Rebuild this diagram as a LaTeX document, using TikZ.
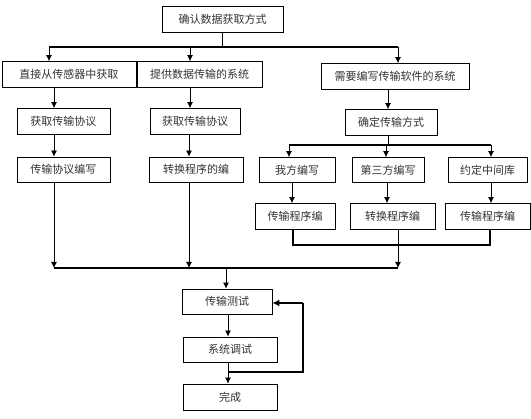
\documentclass[tikz,border=0pt]{standalone}
\usepackage{fontspec}
\newfontfamily\cjk{Noto Sans CJK SC}
\usetikzlibrary{arrows.meta}
\usetikzlibrary{positioning}
\tikzstyle{block} = [draw, rectangle, draw=black, line width=0.8pt, fill=white,
 text=black!80, font=\cjk\fontsize{11}{13}\selectfont,
 inner sep=0pt, minimum height=26pt]
\tikzstyle{arrow} = [line width=0.8pt, ->, >={Latex[length=6pt,width=6pt]}]
\tikzstyle{line} = [line width=0.8pt, -]
\tikzstyle{bus} = [line width=2pt, -]

\begin{document}
\begin{tikzpicture}[x=1pt, y=-1pt]
	\useasboundingbox (0,0) rectangle (531,419);
	
	\node [block, minimum width=121pt] (src) at (222.5,19) {确认数据获取方式};
	
	\node [block, minimum width=134pt] (direct) at (69,74.5) {直接从传感器中获取};
	\node [block, minimum width=125pt] (given) at (199.5,74.5) {提供数据传输的系统};
	\node [block, minimum width=148pt] (write) at (395,76.5) {需要编写传输软件的系统};
	
	\node [block, minimum width=93pt] (protoa) at (63.5,121.5) {获取传输协议};
	\node [block, minimum width=90pt] (protob) at (195,121.5) {获取传输协议};
	\node [block, minimum width=92pt] (mode) at (391,122.5) {确定传输方式};
	
	\node [block, minimum width=93pt, minimum height=25pt] (codea) at (63.5,169.5) {传输协议编写};
	\node [block, minimum width=94pt, minimum height=25pt] (codeb) at (196,169.5) {转换程序的编};
	\node [block, minimum width=76pt, minimum height=25pt] (own) at (297,170) {我方编写};
	\node [block, minimum width=72pt, minimum height=25pt] (third) at (388,170) {第三方编写};
	\node [block, minimum width=79pt, minimum height=25pt] (lib) at (487.5,170) {约定中间库};
	
	\node [block, minimum width=80pt] (proga) at (295,216.5) {传输程序编};
	\node [block, minimum width=85pt] (progb) at (392.5,216.5) {转换程序编};
	\node [block, minimum width=85pt] (progc) at (487.5,216.5) {传输程序编};
	
	\node [block, minimum width=90pt, minimum height=25pt] (test) at (227,301.5) {传输测试};
	\node [block, minimum width=94pt, minimum height=25pt] (sys) at (230,349.5) {系统调试};
	\node [block, minimum width=94pt] (done) at (230,397) {完成};
	
	% bus junctions
	\coordinate (t1) at (49,47);
	\coordinate (t2) at (190,47);
	\coordinate (t3) at (398,47);
	\coordinate (m1) at (289,145);
	\coordinate (m2) at (386,145);
	\coordinate (m3) at (491,145);
	\coordinate (n1) at (293,245);
	\coordinate (n2) at (398,245);
	\coordinate (n3) at (490,245);
	\coordinate (j1) at (54,268);
	\coordinate (j2) at (189,268);
	\coordinate (j3) at (398,268);
	\coordinate (j0) at (226,268);
	\coordinate (f1) at (228,372);
	\coordinate (f2) at (303,372);
	\coordinate (f3) at (303,303);
	
	\draw [line] (src.south -| 222,0) -- (222,47);
	\draw [bus] (t1) -- (t3);
	\draw [arrow] (t1) -- (t1 |- direct.north);
	\draw [arrow] (t2) -- (t2 |- given.north);
	\draw [arrow] (t3) -- (t3 |- write.north);
	
	\draw [arrow] (direct.south -| 54,0) -- (protoa.north -| 54,0);
	\draw [arrow] (given.south -| 190,0) -- (protob.north -| 190,0);
	\draw [arrow] (write.south -| 388,0) -- (mode.north -| 388,0);
	
	\draw [arrow] (protoa.south -| 54,0) -- (codea.north -| 54,0);
	\draw [arrow] (protob.south -| 189,0) -- (codeb.north -| 189,0);
	
	\draw [line] (mode.south -| 388,0) -- (388,145);
	\draw [bus] (m1) -- (m3);
	\draw [arrow] (m1) -- (m1 |- own.north);
	\draw [arrow] (m2) -- (m2 |- third.north);
	\draw [arrow] (m3) -- (m3 |- lib.north);
	
	\draw [arrow] (own.south -| 292,0) -- (proga.north -| 292,0);
	\draw [arrow] (third.south -| 387,0) -- (progb.north -| 387,0);
	\draw [arrow] (lib.south -| 491,0) -- (progc.north -| 491,0);
	
	\draw [bus] (proga.south -| n1) -- (n1) -- (n3) -- (progc.south -| n3);
	\draw [arrow] (progb.south -| n2) -- (j3);
	
	\draw [arrow] (codea.south -| j1) -- (j1);
	\draw [arrow] (codeb.south -| j2) -- (j2);
	\draw [bus] (j1) -- (j3);
	\draw [arrow] (j0) -- (j0 |- test.north);
	
	\draw [arrow] (test.south -| 228,0) -- (sys.north -| 228,0);
	\draw [arrow] (sys.south -| 228,0) -- (done.north -| 228,0);
	\draw [bus] (f1) -- (f2) -- (f3);
	\draw [bus, -{Latex[length=7pt,width=7pt]}] (f3) -- (test.east |- f3);
	
\end{tikzpicture}
\end{document}
